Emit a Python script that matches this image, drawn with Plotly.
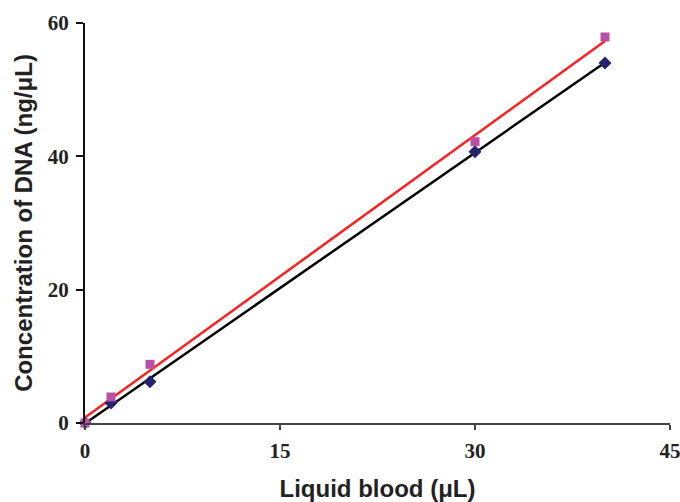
import numpy as np
import plotly.graph_objects as go

volume = [0, 2, 5, 30, 40]
dna_series_a = [0, 3.0, 6.2, 40.7, 54.0]
dna_series_b = [0, 3.9, 8.8, 42.2, 57.9]
x_ticks = [0, 15, 30, 45]
y_ticks = [0, 20, 40, 60]

xa = np.array(volume, dtype=float)
line_x = np.array([min(volume), max(volume)], dtype=float)
ka = np.polyfit(xa, np.array(dna_series_a), 1)
kb = np.polyfit(xa, np.array(dna_series_b), 1)

fig = go.Figure()
fig.add_trace(go.Scatter(x=line_x, y=np.polyval(ka, line_x), mode="lines",
                         line=dict(color="#000000", width=2.5), cliponaxis=False, showlegend=False))
fig.add_trace(go.Scatter(x=line_x, y=np.polyval(kb, line_x), mode="lines",
                         line=dict(color="#FF1E1E", width=2.5), cliponaxis=False, showlegend=False))
fig.add_trace(go.Scatter(x=volume, y=dna_series_a, mode="markers",
                         marker=dict(symbol="diamond", size=10, color="#23236E"),
                         cliponaxis=False, showlegend=False))
fig.add_trace(go.Scatter(x=volume, y=dna_series_b, mode="markers",
                         marker=dict(symbol="square", size=9, color="#B94FA6"),
                         cliponaxis=False, showlegend=False))

tickfont = dict(family="Liberation Serif", size=21, color="#222222", weight="bold")
titlefont = dict(family="Liberation Sans", size=24, color="#222222", weight="bold")

fig.update_layout(
    width=680, height=502,
    margin=dict(l=85, r=10, t=23, b=79),
    plot_bgcolor="white", paper_bgcolor="white",
    xaxis=dict(range=[0, 45], tickvals=x_ticks, showgrid=False, zeroline=False,
               showline=True, linecolor="#444444", linewidth=2, automargin=False,
               ticks="outside", ticklen=5, tickwidth=1.5, tickcolor="#444444",
               tickfont=tickfont, ticklabelstandoff=3, ticklabeloverflow="allow",
               title=dict(text="Liquid blood (μL)", font=titlefont, standoff=18)),
    yaxis=dict(range=[0, 60], tickvals=y_ticks, showgrid=False, zeroline=False,
               showline=True, linecolor="#111111", linewidth=2, automargin=False,
               ticks="outside", ticklen=7, tickwidth=1.5, tickcolor="#111111",
               tickfont=tickfont, ticklabelstandoff=3, ticklabeloverflow="allow",
               title=dict(text="Concentration of DNA (ng/μL)", font=titlefont, standoff=8)),
)

fig.write_html("out.html", config={"displayModeBar": False},
               post_script="document.body.style.margin='0';document.body.style.overflow='hidden';")
